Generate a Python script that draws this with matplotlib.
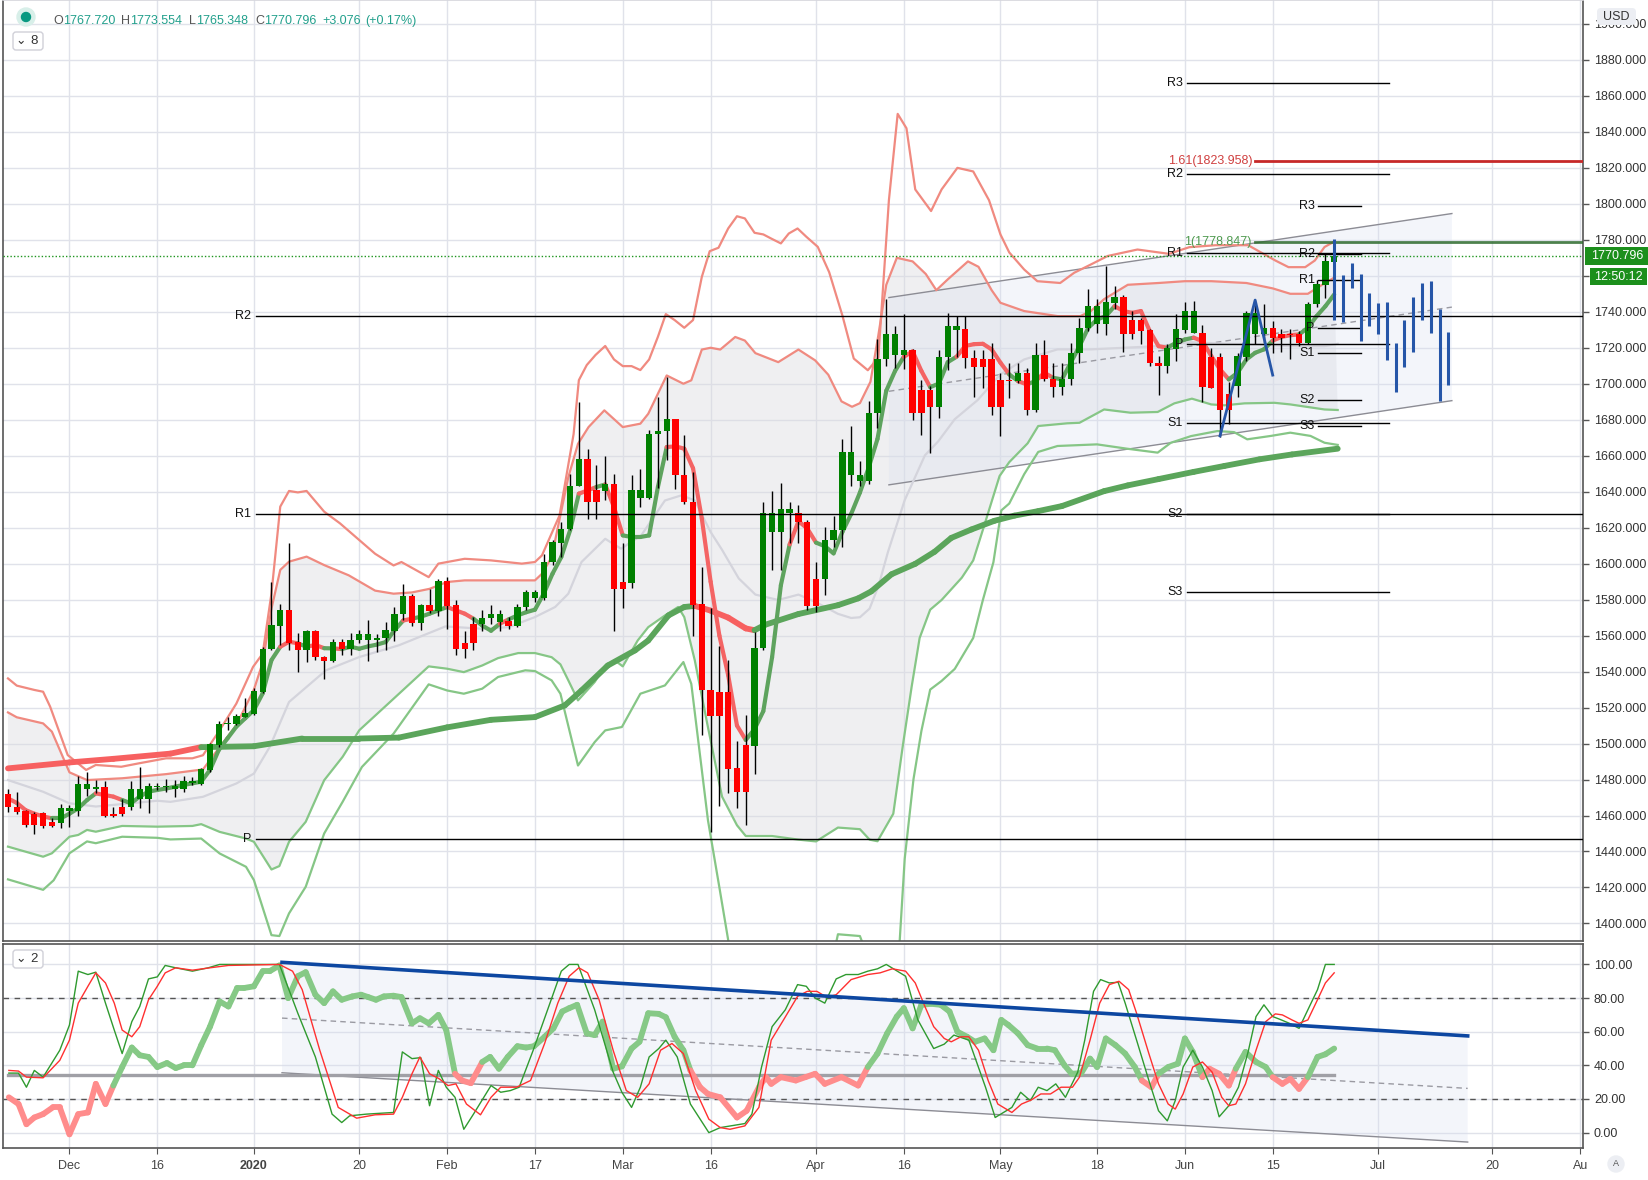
import numpy as np
import matplotlib
matplotlib.use("Agg")
import matplotlib.pyplot as plt
from matplotlib.collections import LineCollection
from matplotlib.patches import FancyBboxPatch, Circle
from matplotlib.ticker import FormatStrFormatter, FuncFormatter
from matplotlib.transforms import IdentityTransform

plt.rcParams['font.family'] = ['Liberation Sans', 'DejaVu Sans']

W, H = 1649, 1180

# ---------------- data (x = trading-day index, 0 = 2 Dec 2019) ----------------
bar0 = -7
opens = [1472, 1464.7, 1462.5, 1461, 1461.6, 1456.4, 1456, 1462.7, 1462.7, 1474.5,
         1474.5, 1475.6, 1461, 1464.5, 1464.5, 1469.4, 1469.4, 1476.2, 1476.3, 1475,
         1475, 1478, 1477.5, 1485.3, 1499, 1511, 1510.9, 1515, 1516.6, 1528.8,
         1552.5, 1565.5, 1574.2, 1556.4, 1552, 1562.5, 1548, 1546, 1556.4, 1552.4,
         1557.3, 1557.3, 1557.6, 1558.8, 1562.5, 1571.8, 1581.8, 1567, 1576.8, 1573.6,
         1590.3, 1576.8, 1556, 1566.6, 1566.6, 1570, 1567.5, 1567.9, 1565.5, 1575.9,
         1581, 1581, 1600.9, 1611.4, 1619.4, 1643.3, 1658.3, 1640.7, 1640.3, 1644.4,
         1589.8, 1589.2, 1636.6, 1636.6, 1672.2, 1673.7, 1680.2, 1649.4, 1634.2, 1577.3,
         1529.5, 1528.5, 1528.5, 1486.4, 1499, 1498.7, 1553, 1617.6, 1617.6, 1628,
         1628, 1623.2, 1591.4, 1591.4, 1613.2, 1618.6, 1649, 1645.8, 1645.8, 1683.6,
         1714, 1716, 1716, 1719, 1696.7, 1696.7, 1687.2, 1714.6, 1730, 1730.2,
         1714.4, 1713.5, 1713.5, 1701.9, 1701.9, 1701.5, 1706.1, 1685.4, 1716.1, 1702.8,
         1698.3, 1702.8, 1717.2, 1731.1, 1733, 1733, 1745, 1748.3, 1735.4, 1735.4,
         1729.6, 1711.7, 1709.8, 1719.1, 1729.8, 1728.3, 1728.3, 1714.8, 1714.8, 1694.1,
         1698.7, 1714.8, 1727.4, 1727.4, 1731.1, 1727.4, 1727.4, 1727.4, 1722.4, 1744.6,
         1754.8, 1767.72]
highs = [1475, 1473, 1463, 1462, 1462, 1458.5, 1466.4, 1465.8, 1482, 1484,
         1480, 1479.4, 1465, 1469, 1479.4, 1487, 1478, 1478, 1480.5, 1479.5,
         1482, 1481.5, 1486.2, 1500.5, 1512.7, 1514.7, 1516.4, 1525.5, 1531, 1553.4,
         1589.6, 1577.6, 1611.6, 1561.2, 1563, 1563, 1548.4, 1557.9, 1557.9, 1561.2,
         1562.9, 1568.4, 1561.1, 1567.5, 1575.9, 1588.5, 1582.9, 1577.7, 1586, 1591.6,
         1592.5, 1579.6, 1562.5, 1570.3, 1574, 1576.8, 1574, 1570.3, 1577.8, 1585.2,
         1585.2, 1605.5, 1613, 1623, 1649.6, 1689.8, 1664, 1655, 1660, 1649.6,
         1611.4, 1649, 1652.8, 1674.4, 1692.6, 1703.7, 1680.6, 1671.3, 1651, 1598,
         1575.5, 1554, 1546.4, 1501.3, 1516, 1562, 1634.5, 1640.5, 1645, 1634,
         1632.5, 1624.5, 1600.7, 1620.2, 1626.6, 1669.3, 1676.3, 1657, 1690.6, 1724.6,
         1747, 1732, 1739, 1719.4, 1702, 1699, 1719, 1739.5, 1737.5, 1737.6,
         1719, 1719, 1722.4, 1706, 1711.7, 1711.7, 1708.9, 1722.8, 1724.3, 1711.7,
         1711.7, 1722.8, 1736.7, 1752.4, 1746.9, 1765.7, 1754.6, 1749.6, 1740.4, 1736.5,
         1730.2, 1715.4, 1721.9, 1738.5, 1745.4, 1745.9, 1732.9, 1720, 1717.2, 1700.9,
         1717.2, 1740.4, 1744.6, 1744.1, 1734.8, 1730.2, 1730.2, 1729.3, 1745.4, 1757.6,
         1771.9, 1773.554]
lows = [1462, 1461, 1453.8, 1450, 1453, 1453.5, 1453, 1453.8, 1460, 1471,
        1472.3, 1459, 1459, 1460, 1463, 1464, 1461.6, 1474, 1473, 1470.5,
        1473.3, 1477, 1477, 1484.4, 1498, 1507.4, 1510.4, 1514.6, 1516, 1527.9,
        1552, 1554.8, 1552, 1540, 1545.5, 1546.5, 1535.7, 1545.5, 1549.4, 1549,
        1555.8, 1546, 1551.1, 1551.8, 1557, 1568.4, 1565.5, 1563.3, 1572.6, 1570.7,
        1563.8, 1549, 1547.5, 1552, 1562.5, 1566.6, 1562.5, 1563.7, 1564.7, 1574.5,
        1578.6, 1580, 1599, 1603.6, 1618.5, 1642.9, 1625, 1625, 1635.2, 1562.5,
        1575.5, 1586.4, 1631.5, 1636, 1642, 1657.4, 1641.6, 1633, 1560, 1504.5,
        1451, 1465.5, 1472.5, 1464, 1455, 1482.8, 1552, 1596.3, 1596.3, 1611.4,
        1611.6, 1574.3, 1572.9, 1582.8, 1609.3, 1609.3, 1643, 1643.3, 1644.4, 1675.3,
        1710, 1709, 1708, 1679.6, 1671.3, 1661.4, 1681, 1707.5, 1715, 1708.9,
        1692.6, 1697.8, 1682.4, 1671, 1692.2, 1700.6, 1682.6, 1684.4, 1701.5, 1692.8,
        1694, 1699.1, 1711.7, 1729.3, 1728.3, 1726.9, 1741.3, 1717.6, 1724.6, 1721.9,
        1709.8, 1694, 1706.1, 1712.6, 1728.3, 1728, 1689.8, 1697.5, 1670.4, 1677.4,
        1692.6, 1712.6, 1721.9, 1722.4, 1717.2, 1717.6, 1713.5, 1721, 1721.9, 1742.8,
        1747.8, 1765.348]
closes = [1464.5, 1462, 1454.7, 1454.7, 1454.3, 1454.3, 1464, 1464, 1477.5, 1477.5,
          1475.6, 1460, 1460, 1460.8, 1474.5, 1474.5, 1476.4, 1476.5, 1476.4, 1476.4,
          1479, 1479, 1485.8, 1499.8, 1511, 1511.2, 1515.3, 1516.8, 1529.2, 1552.5,
          1566, 1574.2, 1556, 1552, 1562.5, 1548, 1546, 1556.4, 1552.4, 1557.5,
          1560.7, 1560.7, 1558.7, 1562.9, 1571.8, 1581.8, 1567, 1576.8, 1573.6, 1590.3,
          1576.4, 1552.7, 1552.5, 1555.8, 1570, 1572.2, 1572.2, 1565.5, 1575.9, 1584,
          1584, 1600.9, 1612, 1619.4, 1643.3, 1658.3, 1634.2, 1634.2, 1644.4, 1585.9,
          1585.9, 1640.7, 1640.7, 1672.2, 1674, 1680.2, 1649, 1634.2, 1576.8, 1529.5,
          1515.2, 1515.2, 1486, 1472.9, 1472.9, 1553, 1628.2, 1628.2, 1630.5, 1630.1,
          1623.2, 1576.5, 1576.5, 1613.2, 1618.6, 1662.1, 1662.1, 1649.4, 1684, 1714,
          1727.8, 1727.8, 1719, 1683.6, 1683.6, 1687.2, 1714.6, 1732, 1732, 1714.4,
          1709.4, 1709.4, 1687.2, 1687.2, 1701.5, 1706.1, 1685.4, 1716.1, 1702.8, 1698.3,
          1702.8, 1717.2, 1731.1, 1743.1, 1743.1, 1745.4, 1748.3, 1727.4, 1727.4, 1729.3,
          1711.7, 1709.8, 1719.6, 1730.2, 1740.7, 1740.7, 1698.3, 1697.8, 1685.2, 1685.2,
          1715.4, 1739.1, 1739.1, 1731.1, 1725.6, 1725.6, 1726.9, 1722.4, 1744.6, 1755.2,
          1768.5, 1770.796]

# fast moving average, one value per bar
fast_ma = [1469.5, 1467, 1463, 1461, 1459.5, 1458.4, 1458.4, 1461, 1464, 1468.6,
           1472.3, 1471.4, 1470.5, 1468.6, 1466.8, 1470.5, 1473.3, 1474.2, 1475, 1476,
           1477, 1477.9, 1478.8, 1485.3, 1496.4, 1502.9, 1509.4, 1514, 1518.6, 1527.9,
           1546.4, 1553.8, 1556.6, 1555.7, 1553.8, 1554.8, 1553, 1552.9, 1552.5, 1553.8,
           1552.7, 1554, 1555, 1556.4, 1562.9, 1568.4, 1569.4, 1570.5, 1572.2, 1574,
           1575.9, 1574, 1572.2, 1569.4, 1565.6, 1562.7, 1566.6, 1569, 1571.2, 1573,
           1574.4, 1583.3, 1594.4, 1603.7, 1618.5, 1638.9, 1640.7, 1642.6, 1644, 1631.4,
           1615.7, 1614.8, 1614.8, 1615.7, 1642.6, 1664.8, 1665.2, 1663.9, 1653, 1625,
           1590, 1560, 1538, 1510, 1502, 1508, 1518, 1548, 1588, 1610.7,
           1623.6, 1619.6, 1611.7, 1609.7, 1605.7, 1617.6, 1627.6, 1639.5, 1653.4, 1669.3,
           1696.1, 1707.1, 1715, 1718, 1707.1, 1698.1, 1700.1, 1712, 1715, 1721,
           1722, 1722.2, 1719.1, 1711.7, 1705.2, 1701.5, 1699.6, 1701.5, 1706.1, 1703.3,
           1702.4, 1711.7, 1720.9, 1731.1, 1735.7, 1737.6, 1743.1, 1740.4, 1739.4, 1740.4,
           1729.3, 1720.9, 1720, 1722.8, 1724.6, 1725.6, 1723.7, 1715.4, 1708, 1702.4,
           1706.1, 1713.5, 1717.2, 1719.1, 1724, 1726, 1727, 1727.4, 1731.1, 1737.6,
           1743.1, 1749.6]

# slow moving average
slow_x = [-7, 0, 5, 11.5, 15, 21, 26.5, 33, 37.5, 43, 48, 53, 56.4, 58.3, 61.3, 64.4, 65.9,
          68.2, 70, 71.2, 73, 75, 77, 78, 79.2, 83, 87.5, 89.8, 91.3, 93.6, 96.3, 98.5,
          100.4, 102.7, 105.3, 107.6, 110.3, 113, 117.8, 120.5, 124, 128, 131.5, 135.5,
          139.2, 144.4]
slow_y = [1486.2, 1489.5, 1491.5, 1494.4, 1498, 1498.5, 1502.8, 1502.8, 1503.3, 1509,
          1513.2, 1514.7, 1521.2, 1529.5, 1543.4, 1551.8, 1557.3, 1571.2, 1575.9, 1576.5,
          1573.9, 1570, 1564, 1563, 1566, 1572, 1576.9, 1580.7, 1584.6, 1594.1, 1599.9,
          1606.6, 1614.3, 1619, 1623.8, 1626.7, 1629.2, 1632, 1640.3, 1643.5, 1647, 1651,
          1654.3, 1658, 1660.7, 1663.9]

# bands: outer upper, inner upper, middle, inner lower, outer lower
uo_x = [-7, -6, -4, -3, -2.2, -0.2, 1.9, 3, 5.9, 7.9, 11, 14, 15.2, 17.1, 19, 20.9, 22, 23,
        24, 25, 26, 27, 29, 30.8, 33, 34.8, 36.9, 37.8, 40.9, 42, 45, 48, 51.5, 53, 53.8,
        55.8, 57.4, 58, 58.9, 59.9, 61, 62, 63, 64, 65, 66, 67, 67.9, 68.9, 70, 71, 72,
        72.9, 73.9, 75, 76, 76.9, 78, 79, 79.9, 81, 81.9, 82.9, 83.9, 85.2, 86.5, 88, 89.3,
        90.9, 92.1, 92.5, 93.3, 94.3, 95.3, 96.3, 98.1, 99.3, 101.1, 102.9, 104.7,
        106, 107, 108.7, 110.2, 112.8, 114.4, 116.3, 118.2, 121.6, 125.2, 127.5, 130.5,
        134.2, 137.3, 138.8, 140.7, 141.8, 142.9, 144]
uo_y = [1536.2, 1532.2, 1529.8, 1528.8, 1520.5, 1493.6, 1485.3, 1488.1, 1487.1, 1489,
        1491.8, 1491.8, 1493.5, 1507.4, 1522.2, 1542.6, 1550, 1583.5, 1631.7, 1640.4,
        1639.6, 1640.4, 1628.9, 1622.4, 1613.1, 1605.5, 1599, 1600.9, 1592.5, 1600,
        1602.7, 1601.8, 1600, 1600.9, 1604.6, 1626.8, 1672, 1702, 1710.4, 1716, 1721,
        1713.5, 1709.8, 1709.8, 1707.6, 1713.5, 1726.1, 1738.7, 1735.4, 1731.1, 1735.4,
        1759.4, 1773.7, 1775.6, 1786.3, 1793.1, 1791.9, 1783.9, 1783, 1780.7, 1778,
        1783.5, 1786.3, 1781.7, 1776.1, 1762, 1738, 1714, 1707.5,
        1714.5, 1743.8, 1802, 1850, 1842, 1808, 1796, 1808, 1820, 1818, 1802, 1783, 1773,
        1763.5, 1757, 1756, 1761.7, 1766.3, 1771, 1774.6, 1772.2, 1775.9, 1777, 1777,
        1768.5, 1764.8, 1764.8, 1768.5, 1776, 1779]
ui_x = [-7, -6, -3, -2, 0, 2, 6, 11, 15.2, 16.4, 19, 21, 22, 23, 24, 25, 27, 29, 31.8, 34.8,
        36.9, 39, 41, 43, 45, 48, 53, 53.8, 54.9, 56.8, 57.9, 59.1, 60.9, 63, 65, 65.9, 68,
        69.9, 70.8, 72, 73, 74.1, 75.8, 76.9, 78.1, 80.7, 83, 84.9, 86.4, 87.9, 89.1, 90,
        91.2, 92.1, 93, 94.2, 96, 97.5, 98.7, 100, 102.3, 103.5, 105, 106, 108.7, 112.5,
        115.1, 116.3, 117.8, 120.5, 124, 127, 130, 134, 137, 139, 141, 142.5, 144]
ui_y = [1517.3, 1514.6, 1511.2, 1506.6, 1484, 1479.7, 1480.7, 1483, 1485.6, 1493.5,
        1510.2, 1530, 1545, 1575, 1596.5, 1601.1, 1603.9, 1599.2, 1593.5, 1585, 1583.3,
        1584, 1586, 1589.8, 1590.7, 1590.7, 1590.7, 1594.4, 1603.6, 1648.1, 1666.6,
        1675.9, 1685.2, 1675.9, 1677.8, 1683.3, 1704.6, 1700, 1701.9, 1719, 1720, 1719,
        1726, 1724, 1717, 1712, 1719, 1713, 1705, 1690.2, 1687.2, 1689.2, 1701.1, 1727,
        1755, 1770, 1768, 1761, 1752, 1758, 1768, 1765, 1752, 1745, 1740.4, 1737.6,
        1737.6, 1740.4, 1747, 1755, 1756, 1757, 1757, 1756, 1753, 1750, 1750, 1754.6, 1759]
mid_x = [-7, -3, 0, 3, 7, 10, 11.5, 15.2, 19, 21, 22.8, 25, 29.2, 33, 37.5, 42.8, 47, 50,
         53, 55.3, 56.8, 58.3, 61, 62.8, 65.1, 67.8, 69.7, 71.2, 73, 74.3, 76.2, 78.1,
         80.7, 83, 84.9, 87.5, 89, 90, 91.1, 92.1, 93.2, 95.1, 97.4, 98.9, 100.8, 103.4,
         106, 108.7, 112.5, 116.3, 120.1, 123.9, 127.7, 131.5, 135.3, 139.1, 142.9, 144.4]
mid_y = [1479.7, 1473.2, 1466.8, 1465, 1466.8, 1468.2, 1467.6, 1470.4, 1477.8, 1483.3,
         1498.1, 1523.1, 1540.7, 1548.1, 1554.6, 1565.1, 1563.8, 1564.7, 1570.3, 1575.9,
         1583.3, 1600.9, 1613.8, 1608.3, 1615.7, 1635.1, 1638, 1635.1, 1617.6, 1607.7,
         1591.8, 1582.8, 1579.8, 1582.8, 1578.8, 1572.1, 1569.8, 1570.2, 1575, 1587.4,
         1606.6, 1635.3, 1660.2, 1667.9, 1680.3, 1690.9, 1705.2, 1713.5, 1719.1, 1719.1,
         1720, 1720.9, 1723.1, 1722.2, 1721.9, 1720.9, 1720.9, 1722.2]
li_x = [-7, -3, -2, 0, 1, 2, 3, 6, 10, 14, 15, 17.1, 20.1, 21, 23, 23.9, 25, 26.9, 29, 31.1,
        33, 36.7, 40.9, 43, 44.9, 47, 48.8, 51.1, 53, 54.9, 55.9, 56.8, 57.9, 59.8, 61,
        62.1, 63, 64.7, 65.9, 67.8, 69.3, 70, 71.2, 72.7, 74.3, 76, 77, 80, 83, 85, 87.5,
        90, 91.1, 92, 93.8, 94.9, 95.9, 96.8, 98, 99.3, 101.6, 102.9, 104.2, 105.9, 107,
        109.1, 110.3, 113.6, 115, 117.8, 120.8, 123.9, 125.8, 127.8, 130, 131.5, 133.8,
        137.2, 139, 142.9, 144.4]
li_y = [1442.7, 1437.1, 1439, 1448.2, 1449.2, 1452, 1451, 1454.2, 1453.8, 1454.2, 1455.2,
        1450.9, 1447.2, 1445.4, 1430, 1431.9, 1445.4, 1456.5, 1479.6, 1492.6, 1507.4, 1524,
        1542.9, 1541.6, 1539.7, 1543.4, 1547.5, 1550.3, 1550.3, 1548, 1544, 1535.1, 1524,
        1534.2, 1543.4, 1546.2, 1542.9, 1557.3, 1564.7, 1571.2, 1575.9, 1570.3, 1546.2,
        1509, 1470.5, 1454.6, 1448.6, 1448.6, 1446.6, 1445.6, 1453.3, 1452.4, 1446.6,
        1445.7, 1461, 1499.3, 1531.9, 1558.7, 1574.4, 1579.8, 1592.2, 1601.8, 1621.9,
        1648.7, 1656.4, 1666.9, 1676.5, 1678, 1678.3, 1685.7, 1683.9, 1684.3, 1689.1,
        1691.7, 1688.5, 1688, 1689.1, 1689.4, 1688.5, 1685.7, 1685.4]
lo_x = [-7, -3, -1.8, 0, 2, 3, 6, 10, 11.5, 15, 17.1, 20.1, 21, 23, 23.9, 25, 26.9, 29, 31.1,
        33.3, 36.9, 40.9, 43, 44.9, 47, 48.8, 51.9, 53, 54.9, 55.9, 57.9, 59.8, 61, 62.9,
        65, 67.8, 69.9, 70.8, 72.7, 74, 75.2, 76, 86, 87.5, 90, 91, 94.4, 95.1, 96.1, 97,
        98, 99.3, 100.8, 102.9, 104, 105.2, 106.1, 107, 108.7, 110.3, 112.5, 117, 120.4,
        123.9, 125.4, 127.7, 130.7, 132.6, 134.1, 136.8, 139, 141.3, 142.9, 144.4]
lo_y = [1424.5, 1418.7, 1424, 1439, 1445.6, 1444.6, 1448.2, 1447.6, 1446.7, 1447.2, 1438.9,
        1431.5, 1424.1, 1393.5, 1393, 1405.6, 1420.4, 1450, 1467.6, 1487, 1505.5, 1532.9,
        1529.5, 1527.7, 1530.5, 1537, 1540.7, 1540.3, 1535.1, 1527.7, 1487.8, 1500.8,
        1507.3, 1509.2, 1527.7, 1532.3, 1545.3, 1533.2, 1457.3, 1420, 1385, 1360, 1360,
        1394, 1393, 1380, 1380, 1436, 1480.2, 1507, 1530, 1534.8, 1541.5, 1558.7, 1579.8,
        1600.8, 1629.6, 1633.4, 1649.7, 1662.1, 1665.4, 1666.3, 1663.9, 1661.7, 1667.2,
        1670.9, 1673.7, 1673.1, 1669.1, 1671, 1672.8, 1671, 1667.2, 1666]

# projection bars and zigzag (blue)
proj_x = [144, 145, 146, 147, 148, 149, 150, 151, 152, 153, 154, 155, 156, 157]
proj_hi = [1780.6, 1760.2, 1767.2, 1761.1, 1750.7, 1745, 1745.4, 1722.6, 1735.7, 1748.1,
           1756.1, 1756.9, 1741.3, 1728.7]
proj_lo = [1735.2, 1734.3, 1753.3, 1723.7, 1732, 1727.8, 1713.3, 1695.4, 1709.3, 1717.6,
           1735.6, 1728.1, 1690.4, 1699.1]
zig_x = [131, 135, 137]
zig_y = [1671, 1746.5, 1704.8]

# rising channel
chan_x = [93.3, 157.4]
chan_top = [1747.9, 1794.6]
chan_mid = [1695.8, 1742.6]
chan_bot = [1643.8, 1690.6]

# pivot levels
long_names = ['R2', 'R1', 'P']
long_levels = [1737.9, 1627.4, 1446.8]
month_names = ['R3', 'R2', 'R1', 'P', 'S1', 'S2', 'S3']
month_levels = [1867.4, 1816.6, 1772.8, 1722.2, 1678.4, 1627.4, 1584.2]
week_names = ['R3', 'R2', 'R1', 'P', 'S1', 'S2', 'S3']
week_levels = [1798.9, 1772.2, 1757.8, 1731.0, 1717.2, 1690.7, 1676.5]
fib_labels = ['1.61(1823.958)', '1(1778.847)']
fib_levels = [1823.958, 1778.847]
last_price = 1770.796

# oscillator panel
k_x = [-6.9, -5.8, -4.9, -4, -3, -1.1, 0, 1, 2.1, 3, 4.1, 5.1, 6, 7.1, 8, 9, 10, 10.9, 12.1,
       14, 15.8, 17.1, 23.9, 26, 28, 29.9, 31, 31.9, 33.8, 36.9, 37.9, 39, 40, 41, 42, 42.9,
       43.9, 44.9, 46, 48, 49.1, 50.2, 51.2, 52.8, 54.3, 56, 56.9, 57.9, 59.8, 61.9, 62.9,
       64, 65, 66, 67.1, 67.9, 69.2, 70.7, 72.8, 74.1, 76.9, 77.7, 78.8, 80, 81.5, 82.9,
       83.9, 84.9, 86, 87.3, 88.4, 89.8, 90.9, 92, 93, 95.2, 96.6, 98.4, 99.6, 100.7,
       102.4, 104.3, 105.4, 107.3, 108.3, 109.4, 110.3, 111.3, 112.3, 113.4, 114.8, 115.6,
       116.6, 117.4, 118.4, 119.4, 120.2, 121.5, 122.9, 124, 125, 125.9, 126.8, 127.9, 129,
       130.1, 130.9, 132, 133.1, 134.2, 135.1, 136, 137, 137.8, 138.9, 140, 141, 142.1, 143,
       144]
k_y = [35.4, 35.4, 27, 37, 33, 49, 64, 96, 94, 95.4, 77, 61, 47, 66, 75, 91.4, 92.6, 99.4, 98,
       96, 98, 100, 100, 71, 45, 11, 6, 10, 11, 12, 48, 44, 44.6, 16, 37, 27, 21, 2, 11, 28,
       24, 25, 27, 49, 71, 96, 100, 100, 73, 36, 24, 15, 27, 45, 50, 55, 45, 17, 0, 3, 5.4,
       11, 39, 63, 73, 88, 87, 80, 77, 91.4, 94, 94, 96, 97.4, 100, 93, 67, 50, 52.6, 58,
       55, 27, 9, 15, 24, 19, 27, 25, 29, 21, 36, 55, 84, 91, 89, 89.4, 77, 55, 31, 13, 7,
       19, 39, 49, 39, 25, 9.4, 16, 27, 48, 69, 76, 69, 67.4, 65, 62, 73, 85, 100, 100]
d_x = [-6.9, -5.8, -4.9, -3, -1.1, 0, 1, 2.1, 3, 4.1, 5.1, 6, 7.1, 8, 9, 10, 10.9, 12.1, 14,
       16, 18.1, 23.9, 25.4, 26.5, 28.5, 30.6, 32.7, 34.8, 36.9, 37.9, 39, 39.9, 41, 42.1,
       43.1, 44, 45.2, 46.8, 48, 49.1, 50.9, 52.5, 54.1, 55.6, 56.9, 58, 59, 60.3, 61.9,
       63.4, 64.7, 66, 67.3, 68.6, 69.9, 71.3, 72.8, 74.1, 75.2, 76.9, 78.5, 79.9, 81.3,
       82.9, 84, 85.1, 86.2, 87.3, 89, 90.9, 92.3, 93.7, 95.2, 96.3, 97.4, 98.4, 99.6,
       100.4, 101.5, 102.4, 103.5, 104.6, 105.7, 107.3, 108.4, 109.5, 110.6, 111.7, 112.9,
       114.2, 115, 116.2, 117.3, 118.4, 119.5, 120.6, 121.5, 122.9, 124, 125.1, 125.9,
       126.8, 127.9, 129, 130.1, 131.2, 132, 132.8, 133.9, 135.1, 136.2, 137.3, 138.1,
       139.2, 140, 141, 142.1, 143, 144]
d_y = [37, 36.6, 33, 32.6, 43, 55, 77, 87, 95, 89, 77, 61, 57, 63, 79, 87, 95, 98, 96.6, 98,
       99.4, 100, 96, 85, 49, 15, 8.6, 10.6, 11, 21, 35, 45, 35, 32, 28, 29, 17, 10.6, 21,
       27, 27, 31, 53, 77, 93, 98, 95, 79, 49, 25, 21, 29, 49, 53, 47, 25, 8, 3, 2, 4, 15,
       55, 67, 81, 84, 84, 80.6, 82, 91, 94, 95, 97.4, 96, 89, 75, 63, 56, 54, 57, 57, 49,
       31, 17, 12, 17, 19.4, 23, 23, 27, 27, 33, 55, 77, 88, 90, 85, 71, 47, 29, 17, 14, 23,
       39, 42, 36, 21, 16, 17, 29, 49, 66, 70.6, 70, 67, 65, 67, 79, 89, 95]
rsi_x = [-6.9, -5.8, -4.9, -4, -3, -1.9, -1.1, 0, 1, 2.1, 3, 4.1, 5, 6, 7.1, 8, 9, 10, 11.1,
         12.1, 13, 14, 15, 16, 17.1, 18.1, 19.1, 19.9, 21, 22, 22.8, 23.9, 24.9, 26, 26.9,
         28, 29, 30, 31, 32.2, 33.2, 34, 34.9, 35.8, 36.9, 37.8, 39, 39.9, 40.9, 42, 42.9,
         43.9, 44.7, 45.7, 47, 47.9, 48.9, 49.9, 51, 52, 52.9, 54.1, 55.1, 56.1, 56.9, 57.8,
         58.9, 59.8, 60.7, 61.9, 62.9, 64, 64.9, 65.9, 67.1, 67.9, 68.9, 69.9, 70.7, 71.8,
         72.7, 74.1, 76, 77.1, 78.5, 79.3, 79.9, 81, 82.7, 83.8, 84.9, 86, 87.9, 89.8, 90.9,
         92, 93.1, 94.2, 95, 96, 97, 98.1, 99.2, 100.2, 101.1, 102.2, 103.1, 104.2, 105.2,
         106.1, 106.9, 108, 109.1, 110.2, 111.3, 112.2, 113.3, 114.1, 115.2, 116.2, 117, 118,
         119.1, 120.2, 121.3, 122.1, 123.2, 124, 125.1, 126.2, 127, 127.9, 129, 129.8,
         130.9, 132, 132.8, 133.9, 135.1, 136.2, 137, 138.1, 139, 140, 141, 142.1, 143, 144]
rsi_y = [21, 17, 5, 9, 11, 15, 15, -1, 11, 12, 29, 17, 28, 39, 50.6, 46, 45, 39, 41.4, 38.4,
         40, 40, 52, 63, 78, 75, 86, 86, 87, 96, 96, 99.4, 80, 93, 95.4, 82, 77, 84, 79, 81,
         82, 80.6, 79, 81, 81.4, 80.6, 65, 68, 65, 70, 61, 35, 31, 29.4, 42, 45, 38, 45, 51.4,
         50.6, 51.4, 57, 62, 72, 74, 76, 59, 58, 66, 38, 39.4, 50, 54, 71, 70.6, 68.6, 57,
         49, 37, 27, 23, 21, 9, 13, 27, 33, 29, 33, 31, 33, 35, 29, 33, 28, 39, 47, 59, 69,
         74, 62, 76, 76.6, 76, 72, 60, 57, 54, 56, 49, 67, 64, 59, 52, 50, 50, 49, 40, 35,
         35.4, 44, 39, 56, 52, 47, 39, 31, 27, 35, 39, 41, 56, 48, 33, 38, 35, 28, 38, 48, 42,
         39, 33, 29, 32, 26, 33, 45, 46.6, 50]
rsi_red_spans = [(-8, 5), (43.9, 46.5), (70.6, 90.4), (121.8, 123.9), (128.6, 132.4),
                 (136.7, 140.6)]
osc_base = 34
osc_chan_x = [24.2, 159.2]
osc_chan_top = [101.25, 57.5]
osc_chan_mid = [68.1, 26.3]
osc_chan_bot = [35.6, -5.6]

tick_pos = [0, 10, 21, 33, 43, 53, 63, 73, 85, 95, 106, 117, 127, 137, 149, 162, 172]
tick_lab = ['Dec', '16', '2020', '20', 'Feb', '17', 'Mar', '16', 'Apr', '16', 'May', '18',
            'Jun', '15', 'Jul', '20', 'Au']

# ---------------- styling ----------------
GREEN_C = '#008000'
RED_C = '#ff0000'
GRID = '#e0e2ea'
XL = (-7.55, 172.3)

bars = np.arange(bar0, bar0 + len(closes))


def close_at(x):
    k = int(round(x)) - bar0
    k = min(max(k, 0), len(closes) - 1)
    return closes[k]


def colored_line(axis, xs, ys, reds, green, red, lw, z):
    pts = np.column_stack([xs, ys])
    segs = np.stack([pts[:-1], pts[1:]], axis=1)
    cols = [red if r else green for r in reds]
    axis.add_collection(LineCollection(segs, colors=cols, linewidths=lw, zorder=z,
                                       capstyle='round', joinstyle='round'))


def price_fmt(v, pos):
    # the 1760 label sits under the countdown tag on the real chart
    if abs(v - 1760) < 1e-6:
        return ''
    return '%.3f' % v


fig = plt.figure(figsize=(W / 100, H / 100), dpi=100)
ax = fig.add_axes([3 / 1568, 1 - 895 / 1122, 1502 / 1568, 895 / 1122])
ax2 = fig.add_axes([3 / 1568, 1 - 1092 / 1122, 1502 / 1568, 194 / 1122])

for a in (ax, ax2):
    a.set_xlim(*XL)
    a.set_xticks(tick_pos)
    a.grid(True, color=GRID, lw=1, zorder=0)
    a.set_axisbelow(True)
    a.yaxis.tick_right()
    a.tick_params(axis='y', colors='#555555', labelcolor='#333333', labelsize=9,
                  length=4, width=1, pad=4)
    for s in a.spines.values():
        s.set_color('#555555')
        s.set_linewidth(1.2)
    a.spines['top'].set_color('#d6d6dc')
ax.tick_params(axis='x', length=0, labelbottom=False)
ax2.tick_params(axis='x', length=4, colors='#555555', labelcolor='#444444', labelsize=9, pad=4)
ax2.set_xticklabels(tick_lab)
ax2.get_xticklabels()[2].set_fontweight('bold')
ax2.spines['top'].set_color('#555555')

# ---------------- main price panel ----------------
ax.set_ylim(1390.1, 1913.3)
ax.set_yticks(np.arange(1400, 1920, 20))
ax.yaxis.set_major_formatter(FuncFormatter(price_fmt))

# band fill (inner upper to inner lower) and drawn channel fill
ax.fill(np.r_[ui_x, li_x[::-1]], np.r_[ui_y, li_y[::-1]], color='#d9d9de', alpha=0.4,
        lw=0, zorder=0.6)
ax.fill([chan_x[0], chan_x[1], chan_x[1], chan_x[0]],
        [chan_top[0], chan_top[1], chan_bot[1], chan_bot[0]],
        color='#d6def0', alpha=0.28, lw=0, zorder=0.7)
ax.plot(chan_x, chan_top, color='#8c8c94', lw=1, zorder=1)
ax.plot(chan_x, chan_bot, color='#8c8c94', lw=1, zorder=1)
ax.plot(chan_x, chan_mid, color='#9a9aa2', lw=1, ls=(0, (4, 3)), zorder=1)

ax.plot(uo_x, uo_y, color='#f08a80', lw=1.6, zorder=1.2)
ax.plot(ui_x, ui_y, color='#f08a80', lw=1.6, zorder=1.2)
ax.plot(mid_x, mid_y, color='#d4d4dc', lw=1.6, zorder=1.1)
ax.plot(li_x, li_y, color='#86c686', lw=1.6, zorder=1.2)
ax.plot(lo_x, lo_y, color='#86c686', lw=1.6, zorder=1.2)

# moving averages, red where price closes below them
slow_red = [close_at((slow_x[j] + slow_x[j + 1]) / 2) < (slow_y[j] + slow_y[j + 1]) / 2
            for j in range(len(slow_x) - 1)]
colored_line(ax, slow_x, slow_y, slow_red, '#5ba55b', '#f76060', 4.2, 1.5)
fast_red = [closes[j + 1] < fast_ma[j + 1] for j in range(len(fast_ma) - 1)]
colored_line(ax, bars, fast_ma, fast_red, '#5ea35e', '#f46464', 3.0, 1.6)

# candles
ax.vlines(bars, lows, highs, color='#000000', lw=1, zorder=3)
o = np.array(opens)
c = np.array(closes)
body_col = np.where(c >= o, GREEN_C, RED_C)
body_h = np.maximum(np.abs(c - o), 0.6)
ax.bar(bars, body_h, bottom=np.minimum(o, c) - (body_h - np.abs(c - o)) / 2, width=0.72,
       color=body_col, lw=0, zorder=3.2)

# pivot lines
for name, lv in zip(long_names, long_levels):
    ax.plot([21.2, XL[1]], [lv, lv], color='#000000', lw=1, zorder=4)
    ax.text(20.7, lv, name, ha='right', va='center', fontsize=9, color='#111111', zorder=5)
for name, lv in zip(month_names, month_levels):
    ax.plot([127.2, 150.2], [lv, lv], color='#000000', lw=1, zorder=4)
    ax.text(126.8, lv, name, ha='right', va='center', fontsize=9, color='#111111', zorder=5)
for name, lv in zip(week_names, week_levels):
    ax.plot([142.1, 147.1], [lv, lv], color='#000000', lw=1, zorder=4)
    ax.text(141.8, lv, name, ha='right', va='center', fontsize=9, color='#111111', zorder=5)

# fibonacci extension levels
ax.plot([135, XL[1]], [fib_levels[0]] * 2, color='#c62828', lw=2, zorder=4)
ax.text(134.7, fib_levels[0], fib_labels[0], ha='right', va='center', fontsize=9,
        color='#d04040', zorder=5)
ax.plot([135, XL[1]], [fib_levels[1]] * 2, color='#2e6b2e', lw=2, alpha=0.85, zorder=4)
ax.text(134.6, fib_levels[1], fib_labels[1], ha='right', va='center', fontsize=9,
        color='#4f9a4f', zorder=5)

# projection
ax.vlines(proj_x, proj_lo, proj_hi, color='#2656a8', lw=2.2, zorder=4.5)
ax.plot(zig_x, zig_y, color='#2656a8', lw=2, zorder=4.5)

# last price line
ax.axhline(last_price, color='#1f951f', lw=1, ls=(0, (1, 1.5)), zorder=4)

# ---------------- oscillator panel ----------------
ax2.set_ylim(-9.4, 111.9)
ax2.set_yticks(np.arange(0, 101, 20))
ax2.yaxis.set_major_formatter(FormatStrFormatter('%.2f'))
ax2.fill([osc_chan_x[0], osc_chan_x[1], osc_chan_x[1], osc_chan_x[0]],
         [osc_chan_top[0], osc_chan_top[1], osc_chan_bot[1], osc_chan_bot[0]],
         color='#d6def0', alpha=0.28, lw=0, zorder=0.7)
ax2.axhline(80, color='#555555', lw=1, ls=(0, (4, 4)), zorder=1)
ax2.axhline(20, color='#555555', lw=1, ls=(0, (4, 4)), zorder=1)
ax2.plot(osc_chan_x, osc_chan_bot, color='#8c8c94', lw=1, zorder=1)
ax2.plot(osc_chan_x, osc_chan_mid, color='#9a9aa2', lw=1, ls=(0, (4, 3)), zorder=1)
ax2.plot([bar0, bars[-1]], [osc_base, osc_base], color='#a0a0a6', lw=2.4, zorder=1.2)

rsi_red = [any(a <= (rsi_x[j] + rsi_x[j + 1]) / 2 <= b for a, b in rsi_red_spans)
           for j in range(len(rsi_x) - 1)]
colored_line(ax2, rsi_x, rsi_y, rsi_red, '#86c986', '#ff8c8c', 4.2, 1.5)
ax2.plot(k_x, k_y, color='#2f9a2f', lw=1, zorder=2)
ax2.plot(d_x, d_y, color='#ff3030', lw=1, zorder=2)
ax2.plot(osc_chan_x, osc_chan_top, color='#0d47a1', lw=2.6, zorder=3)

# ---------------- overlays (pixel coordinates) ----------------
pix = IdentityTransform()


def py(y):
    return H - y


fig.add_artist(Circle((26, py(17)), 9, color='#d8efe9', transform=pix, zorder=10))
fig.add_artist(Circle((26, py(17)), 4.5, color='#089981', transform=pix, zorder=11))
head = [(53, 'O', '#555555'), (63, '1767.720', '#22a08c'), (121, 'H', '#555555'),
        (130, '1773.554', '#22a08c'), (189, 'L', '#555555'), (196, '1765.348', '#22a08c'),
        (255, 'C', '#555555'), (264, '1770.796', '#22a08c'), (322, '+3.076', '#22a08c'),
        (365, '(+0.17%)', '#22a08c')]
for x, s, col in head:
    fig.text(x / W, 1 - 21 / H, s, fontsize=9, color=col, va='center', ha='left')

for yb, lab in ((32, '8'), (950, '2')):
    fig.add_artist(FancyBboxPatch((13, py(yb + 18)), 30, 18,
                                  boxstyle='round,pad=0,rounding_size=3', fc='white',
                                  ec='#d0d0d8', lw=1, transform=pix, zorder=10))
    fig.text(21 / W, 1 - (yb + 9.5) / H, '⌄', fontsize=9, color='#333333', ha='center',
             va='center', zorder=11)
    fig.text(34 / W, 1 - (yb + 9) / H, lab, fontsize=9.5, color='#333333', ha='center',
             va='center', zorder=11)

# price tags on the right scale
fig.add_artist(FancyBboxPatch((1585, py(265)), 64, 18, boxstyle='square,pad=0',
                              fc='#1c8f1c', ec='none', transform=pix, zorder=10))
fig.text(1617 / W, 1 - 256 / H, '1770.796', fontsize=9, color='white', ha='center',
         va='center', zorder=11)
fig.add_artist(FancyBboxPatch((1590, py(285)), 57, 17, boxstyle='square,pad=0',
                              fc='#1c8f1c', ec='none', transform=pix, zorder=10))
fig.text(1618 / W, 1 - 276.5 / H, '12:50:12', fontsize=9, color='white', ha='center',
         va='center', zorder=11)
fig.add_artist(FancyBboxPatch((1597, py(25)), 39, 17,
                              boxstyle='round,pad=0,rounding_size=4', fc='#eceef3',
                              ec='none', transform=pix, zorder=10))
fig.text(1616 / W, 1 - 16.5 / H, 'USD', fontsize=9, color='#333333', ha='center',
         va='center', zorder=11)
fig.add_artist(Circle((1616, py(1164)), 8, color='#eceef3', transform=pix, zorder=10))
fig.text(1616 / W, 1 - 1164 / H, 'A', fontsize=6.5, color='#555555', ha='center',
         va='center', zorder=11)

fig.savefig('out.png', dpi=100)
